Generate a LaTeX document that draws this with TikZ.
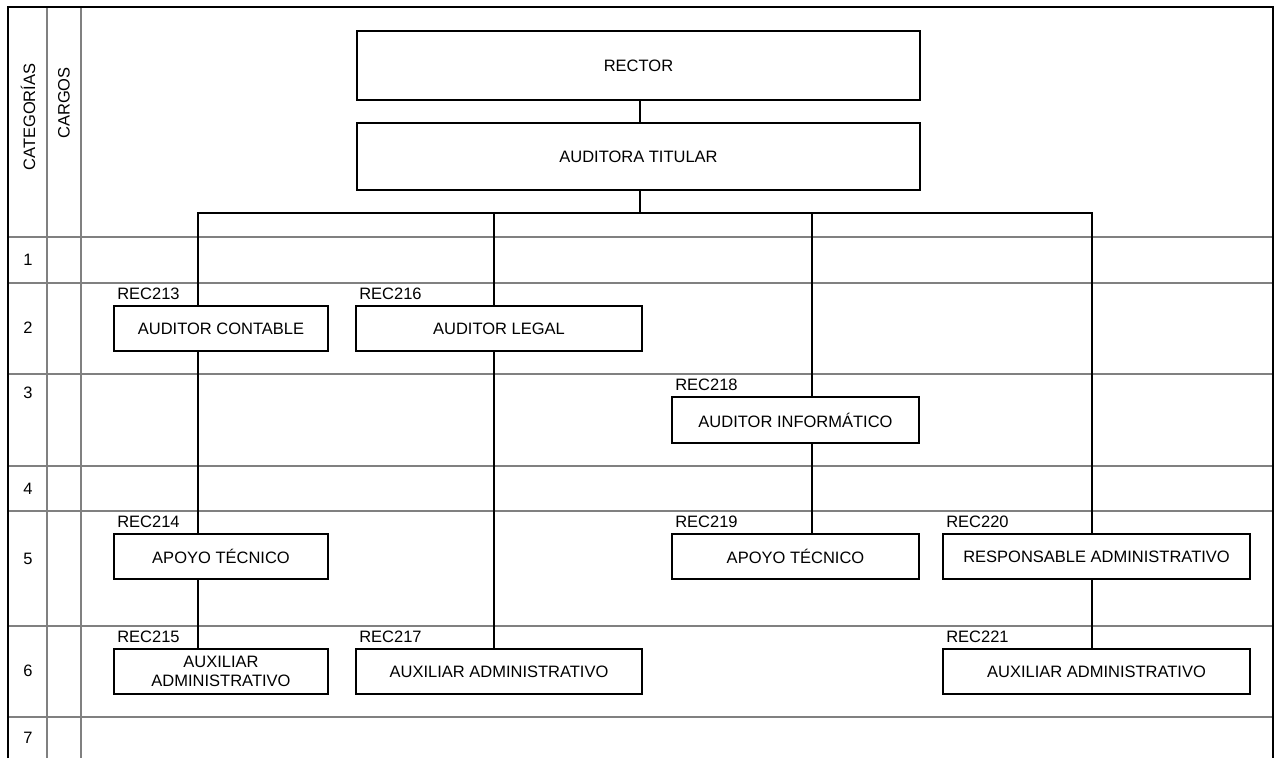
\documentclass[tikz,border=0pt]{standalone}
\usepackage{fontspec}
\setmainfont{Liberation Sans}
\usetikzlibrary{calc}

\begin{document}
\begin{tikzpicture}[x=1pt,y=-1pt,
  rejilla/.style={draw=black!50,line width=1.4pt},
  borde/.style={line width=2.6pt},
  cargo/.style={draw,line width=1.8pt,inner sep=0pt,align=center,font=\fontsize{16.5}{19}\selectfont},
  codigo/.style={anchor=base west,inner sep=0pt,xshift=4pt,yshift=6pt,font=\fontsize{16.5}{19}\selectfont},
  fila/.style={inner sep=0pt,font=\fontsize{16.5}{19}\selectfont},
  enlace/.style={line width=1.8pt}]
\useasboundingbox (0,0) rectangle (1280,758);

% Rows and columns
\draw[rejilla] (8,237) -- (1273,237);
\draw[rejilla] (8,283) -- (1273,283);
\draw[rejilla] (8,374) -- (1273,374);
\draw[rejilla] (8,466) -- (1273,466);
\draw[rejilla] (8,511) -- (1273,511);
\draw[rejilla] (8,626) -- (1273,626);
\draw[rejilla] (8,717) -- (1273,717);
\draw[rejilla] (47,7) -- (47,758);
\draw[rejilla] (81,7) -- (81,758);
\draw[borde] (8,758) -- (8,7) -- (1273,7) -- (1273,758);

% Headings
\node[fila,rotate=90] (cat) at (28,117) {CATEGORÍAS};
\node[fila,rotate=90] (car) at (64,103) {CARGOS};
\node[fila] (f1) at (28,260) {1};
\node[fila] (f2) at (28,328) {2};
\node[fila] (f3) at (28,393) {3};
\node[fila] (f4) at (28,489) {4};
\node[fila] (f5) at (28,559) {5};
\node[fila] (f6) at (28,671) {6};
\node[fila] (f7) at (28,738) {7};

% Positions
\node[cargo,minimum width=563pt,minimum height=69pt] (rector) at (638.5,65.5) {RECTOR};
\node[cargo,minimum width=563pt,minimum height=67pt] (titular) at (638.5,156.5) {AUDITORA TITULAR};
\node[cargo,minimum width=214pt,minimum height=45pt] (contable) at (221,328.5) {AUDITOR CONTABLE};
\node[cargo,minimum width=286pt,minimum height=45pt] (legal) at (499,328.5) {AUDITOR LEGAL};
\node[cargo,minimum width=247pt,minimum height=46pt] (informatico) at (795.5,420) {AUDITOR INFORMÁTICO};
\node[cargo,minimum width=214pt,minimum height=45pt] (apoyoA) at (221,556.5) {APOYO TÉCNICO};
\node[cargo,minimum width=247pt,minimum height=45pt] (apoyoB) at (795.5,556.5) {APOYO TÉCNICO};
\node[cargo,minimum width=307pt,minimum height=45pt] (responsable) at (1096.5,556.5) {RESPONSABLE ADMINISTRATIVO};
\node[cargo,minimum width=214pt,minimum height=45pt] (auxA) at (221,671.5) {AUXILIAR\\ADMINISTRATIVO};
\node[cargo,minimum width=286pt,minimum height=45pt] (auxB) at (499,671.5) {AUXILIAR ADMINISTRATIVO};
\node[cargo,minimum width=307pt,minimum height=45pt] (auxC) at (1096.5,671.5) {AUXILIAR ADMINISTRATIVO};

% Codes
\node[codigo] (c213) at (contable.north west) {REC213};
\node[codigo] (c216) at (legal.north west) {REC216};
\node[codigo] (c218) at (informatico.north west) {REC218};
\node[codigo] (c214) at (apoyoA.north west) {REC214};
\node[codigo] (c219) at (apoyoB.north west) {REC219};
\node[codigo] (c220) at (responsable.north west) {REC220};
\node[codigo] (c215) at (auxA.north west) {REC215};
\node[codigo] (c217) at (auxB.north west) {REC217};
\node[codigo] (c221) at (auxC.north west) {REC221};

% Lines
\coordinate (bus) at (640,213);
\coordinate (dA) at (198,213);
\coordinate (dB) at (494,213);
\coordinate (dC) at (812,213);
\coordinate (dD) at (1092,213);
\draw[enlace] (rector.south -| bus) -- (titular.north -| bus);
\draw[enlace] (titular.south -| bus) -- (bus);
\draw[enlace] (dA |- contable.north) -- (dA) -- (dD) -- (dD |- responsable.north);
\draw[enlace] (dA |- contable.south) -- (dA |- apoyoA.north);
\draw[enlace] (dA |- apoyoA.south) -- (dA |- auxA.north);
\draw[enlace] (dB) -- (dB |- legal.north);
\draw[enlace] (dB |- legal.south) -- (dB |- auxB.north);
\draw[enlace] (dC) -- (dC |- informatico.north);
\draw[enlace] (dC |- informatico.south) -- (dC |- apoyoB.north);
\draw[enlace] (dD |- responsable.south) -- (dD |- auxC.north);
\end{tikzpicture}
\end{document}
